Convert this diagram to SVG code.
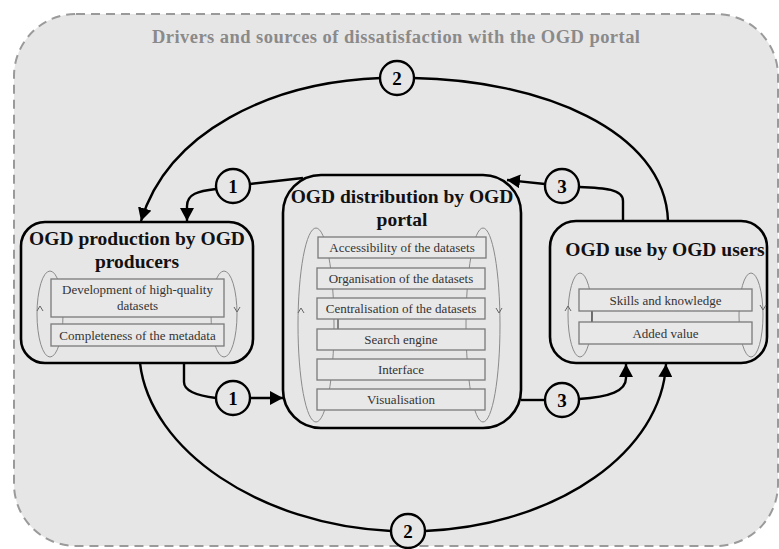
<svg xmlns="http://www.w3.org/2000/svg" width="779" height="549" viewBox="0 0 779 549">
<defs>
<style>
.bg{fill:#e7e6e7;stroke:#9a9a9a;stroke-width:2;stroke-dasharray:9 6}
.node{fill:none;stroke:#000;stroke-width:2.6}
.item{fill:#e9e8e9;stroke:#7a7a7a;stroke-width:1.3}
.ell{fill:none;stroke:#8a8a8a;stroke-width:1}
.chev{fill:none;stroke:#666;stroke-width:1}
.conn{fill:none;stroke:#000;stroke-width:2.4}
.num{fill:#e7e6e7;stroke:#000;stroke-width:2.4}
.numt{font-family:"Liberation Serif","Times New Roman",serif;font-weight:bold;font-size:19px;text-anchor:middle;fill:#000}
.title{font-family:"Liberation Serif","Times New Roman",serif;font-weight:bold;font-size:19.5px;text-anchor:middle;fill:#111}
.it{font-family:"Liberation Serif","Times New Roman",serif;font-size:13px;text-anchor:middle;fill:#333}
.main{font-family:"Liberation Serif","Times New Roman",serif;font-weight:bold;font-size:18.5px;text-anchor:middle;fill:#8a8a8a}
</style>
<marker id="ah" markerUnits="userSpaceOnUse" markerWidth="14" markerHeight="14" refX="13" refY="7" orient="auto">
<path d="M0,0 L13,7 L0,14 z" fill="#000"/>
</marker>
</defs>

<rect class="bg" x="14" y="14" width="764" height="532" rx="62" ry="62"/>
<text class="main" x="396" y="43" textLength="488" lengthAdjust="spacing">Drivers and sources of dissatisfaction with the OGD portal</text>

<g id="connectors">
<!-- 2 top: from use to production -->
<path class="conn" d="M413,78 C540,80 665,130 668,221"/>
<path class="conn" d="M381,78 C270,82 168,132 141,221" marker-end="url(#ah)"/>
<!-- 1 top: from distribution to production -->
<path class="conn" d="M250,184 L303,178"/>
<path class="conn" d="M216,189 C198,191 187,194 187,206 L187,221" marker-end="url(#ah)"/>
<!-- 3 top: from use to distribution -->
<path class="conn" d="M579,187 C605,188 623,189 623,201 L623,221"/>
<path class="conn" d="M545,184 L507,180" marker-end="url(#ah)"/>
<!-- 1 bottom: production to distribution -->
<path class="conn" d="M184,363 L184,382 C184,392 200,396 216,398"/>
<path class="conn" d="M250,398 L283,398" marker-end="url(#ah)"/>
<!-- 3 bottom: distribution to use -->
<path class="conn" d="M521,400 L545,400"/>
<path class="conn" d="M579,399 C610,397 626,391 626,378 L626,364" marker-end="url(#ah)"/>
<!-- 2 bottom: production to use -->
<path class="conn" d="M140,363 C150,450 260,525 391,531"/>
<path class="conn" d="M425,531 C560,525 662,450 666,364" marker-end="url(#ah)"/>

<circle class="num" cx="397" cy="78" r="17"/>
<text class="numt" x="397" y="85">2</text>
<circle class="num" cx="233" cy="186" r="17"/>
<text class="numt" x="233" y="193">1</text>
<circle class="num" cx="562" cy="186" r="17"/>
<text class="numt" x="562" y="193">3</text>
<circle class="num" cx="233" cy="398" r="17"/>
<text class="numt" x="233" y="405">1</text>
<circle class="num" cx="562" cy="400" r="17"/>
<text class="numt" x="562" y="407">3</text>
<circle class="num" cx="408" cy="531" r="17"/>
<text class="numt" x="408" y="538">2</text>
</g>

<g id="production">
<rect class="node" x="21" y="222" width="232" height="141" rx="24"/>
<text class="title" x="137" y="245">OGD production by OGD</text>
<text class="title" x="137" y="268">producers</text>
<ellipse class="ell" cx="50" cy="314" rx="13" ry="43"/>
<ellipse class="ell" cx="224" cy="314" rx="13" ry="43"/>
<path class="chev" d="M37,311 L40,306 L43,311"/>
<path class="chev" d="M234,307 L237,312 L240,307"/>
<rect class="item" x="51" y="279" width="173" height="38"/>
<text class="it" x="137.5" y="294">Development of high-quality</text>
<text class="it" x="137.5" y="310">datasets</text>
<rect class="item" x="51" y="324" width="173" height="22"/>
<text class="it" x="137.5" y="339.5">Completeness of the metadata</text>
</g>

<g id="distribution">
<rect class="node" x="283" y="175" width="238" height="253" rx="38"/>
<text class="title" x="402" y="203">OGD distribution by OGD</text>
<text class="title" x="402" y="226">portal</text>
<ellipse class="ell" cx="316" cy="325" rx="18" ry="97"/>
<ellipse class="ell" cx="483" cy="325" rx="17" ry="97"/>
<path class="chev" d="M298,313 L301,308 L304,313"/>
<path class="chev" d="M496,308 L499,313 L502,308"/>
<line x1="338" y1="319" x2="338" y2="329" stroke="#222" stroke-width="1"/>
<rect class="item" x="318" y="237" width="168" height="21"/>
<text class="it" x="402" y="252">Accessibility of the datasets</text>
<rect class="item" x="317" y="268" width="168" height="21"/>
<text class="it" x="401" y="283">Organisation of the datasets</text>
<rect class="item" x="317" y="298" width="168" height="21"/>
<text class="it" x="401" y="313">Centralisation of the datasets</text>
<rect class="item" x="317" y="329" width="168" height="21"/>
<text class="it" x="401" y="344">Search engine</text>
<rect class="item" x="317" y="359" width="168" height="21"/>
<text class="it" x="401" y="374">Interface</text>
<rect class="item" x="317" y="389" width="168" height="21"/>
<text class="it" x="401" y="404">Visualisation</text>
</g>

<g id="use">
<rect class="node" x="550" y="221" width="217" height="142" rx="26"/>
<text class="title" x="665" y="256">OGD use by OGD users</text>
<ellipse class="ell" cx="580" cy="315" rx="12" ry="42"/>
<ellipse class="ell" cx="751" cy="315" rx="12" ry="42"/>
<path class="chev" d="M565,311 L568,306 L571,311"/>
<path class="chev" d="M760,305 L763,310 L766,305"/>
<line x1="592" y1="311" x2="592" y2="322" stroke="#222" stroke-width="1"/>
<rect class="item" x="579" y="289" width="173" height="22"/>
<text class="it" x="665.5" y="304.5">Skills and knowledge</text>
<rect class="item" x="579" y="322" width="173" height="22"/>
<text class="it" x="665.5" y="337.5">Added value</text>
</g>
</svg>
